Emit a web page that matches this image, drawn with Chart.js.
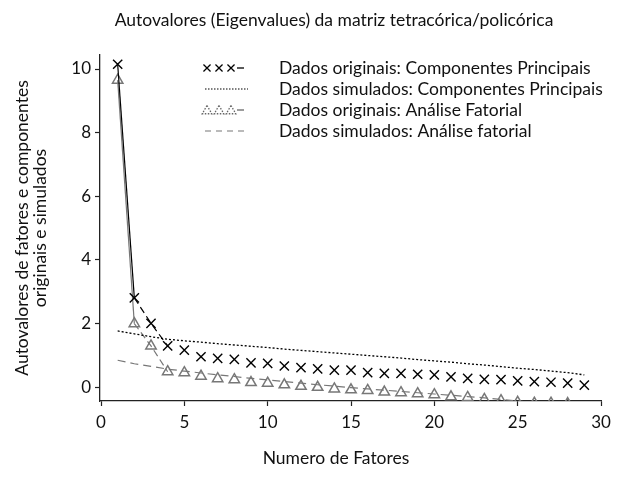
<!DOCTYPE html>
<html>
<head>
<meta charset="utf-8">
<script src="https://cdn.jsdelivr.net/npm/chart.js@4"></script>
<style>
  body { margin: 0; background: #fff; }
</style>
</head>
<body>
<canvas id="chart" width="620" height="479"></canvas>
<script>
// DATA
const factors = [1, 2, 3, 4, 5, 6, 7, 8, 9, 10, 11, 12, 13, 14, 15, 16, 17, 18, 19, 20, 21, 22, 23, 24, 25, 26, 27, 28, 29];
const pcOriginal = [10.15, 2.81, 2.01, 1.30, 1.17, 0.96, 0.91, 0.88, 0.77, 0.75, 0.67, 0.62, 0.58, 0.54, 0.54, 0.46, 0.44, 0.44, 0.41, 0.39, 0.33, 0.28, 0.25, 0.24, 0.20, 0.18, 0.16, 0.13, 0.07];
const pcSimulated = [1.77, 1.68, 1.59, 1.51, 1.46, 1.42, 1.37, 1.33, 1.29, 1.25, 1.20, 1.16, 1.12, 1.08, 1.04, 1.00, 0.96, 0.92, 0.87, 0.83, 0.79, 0.74, 0.70, 0.65, 0.60, 0.56, 0.51, 0.46, 0.39];
const faOriginal = [9.65, 2.00, 1.30, 0.49, 0.46, 0.35, 0.27, 0.24, 0.15, 0.13, 0.08, 0.03, 0.00, -0.05, -0.08, -0.10, -0.15, -0.17, -0.20, -0.23, -0.30, -0.32, -0.38, -0.42, -0.47, -0.50, -0.50, -0.51];
const faSimulated = [0.85, 0.74, 0.66, 0.57, 0.51, 0.45, 0.39, 0.34, 0.28, 0.23, 0.18, 0.13, 0.08, 0.04, -0.01, -0.05, -0.09, -0.13, -0.17, -0.21, -0.25, -0.29, -0.33, -0.38, -0.43, -0.48, -0.53, -0.58, -0.63];

const xTicks = [0, 5, 10, 15, 20, 25, 30];
const yTicks = [0, 2, 4, 6, 8, 10];

const seriesLabels = [
    'Dados originais: Componentes Principais',
    'Dados simulados: Componentes Principais',
    'Dados originais: Análise Fatorial',
    'Dados simulados: Análise fatorial'
];
const chartTitle = 'Autovalores (Eigenvalues) da matriz tetracórica/policórica';
const xTitle = 'Numero de Fatores';
const yTitle = ['Autovalores de fatores e componentes', 'originais e simulados'];

const FONT = 'Lato';
const GRAY = '#777777';

function toPoints(values) {
    return values.map((v, i) => ({ x: factors[i], y: v }));
}

// only the first three segments of the "original" series carry a line
function firstSegments(color) {
    return {
        borderColor: ctx => ctx.p0DataIndex < 3 ? color : 'rgba(0,0,0,0)',
        borderDash: ctx => ctx.p0DataIndex === 0 ? [] : [7, 4]
    };
}

// TITLES (main title and x title sit a bit left of the plot centre, as in the source)
const titlePlugin = {
    id: 'plotTitles',
    afterDraw(chart) {
        const ctx = chart.ctx;
        ctx.save();
        ctx.font = '17.5px ' + FONT;
        ctx.fillStyle = '#111';
        ctx.textAlign = 'center';
        ctx.textBaseline = 'middle';
        ctx.fillText(chartTitle, 334, 20);
        ctx.fillText(xTitle, 336, 458);
        ctx.restore();
    }
};

// LEGEND (inside the plot, top right)
const legendPlugin = {
    id: 'insideLegend',
    afterDraw(chart) {
        const ctx = chart.ctx;
        const rows = [67, 88, 109, 130];
        const textX = 279;
        ctx.save();
        chart.data.datasets.forEach((ds, i) => {
            const y = rows[i];
            ctx.font = '17.5px ' + FONT;
            ctx.fillStyle = '#111';
            ctx.textAlign = 'left';
            ctx.textBaseline = 'middle';
            ctx.fillText(ds.label, textX, y + 1);
            ctx.lineWidth = 1.3;
            if (i === 0 || i === 2) {
                const color = i === 0 ? '#000' : '#666';
                ctx.strokeStyle = color;
                ctx.fillStyle = 'rgba(0,0,0,0)';
                [207, 219, 231].forEach(px => {
                    Chart.helpers.drawPoint(ctx, {
                        pointStyle: i === 0 ? 'crossRot' : 'triangle',
                        radius: i === 0 ? 5 : 5.5,
                        borderWidth: 1.3,
                        rotation: 0
                    }, px, i === 0 ? y + 1 : y + 2);
                });
                ctx.beginPath();
                ctx.setLineDash([]);
                ctx.moveTo(237, y + 1);
                ctx.lineTo(244, y + 1);
                ctx.stroke();
            } else {
                ctx.lineWidth = 1.1;
                ctx.strokeStyle = i === 1 ? '#000' : GRAY;
                ctx.setLineDash(i === 1 ? [1.5, 1.5] : [6, 5]);
                ctx.beginPath();
                ctx.moveTo(205, y + 1);
                ctx.lineTo(248, y + 1);
                ctx.stroke();
            }
        });
        ctx.restore();
    }
};

Chart.defaults.font.family = FONT;
Chart.defaults.color = '#111';

const chart = new Chart(document.getElementById('chart').getContext('2d'), {
    type: 'line',
    data: {
        datasets: [{
            label: seriesLabels[0],
            data: toPoints(pcOriginal),
            borderColor: '#000',
            borderWidth: 1.2,
            pointStyle: 'crossRot',
            pointRadius: 6.5,
            pointBorderWidth: 1.4,
            pointBorderColor: '#000',
            pointBackgroundColor: 'rgba(0,0,0,0)',
            segment: firstSegments('#000'),
            tension: 0
        }, {
            label: seriesLabels[1],
            data: toPoints(pcSimulated),
            borderColor: '#000',
            borderWidth: 1.3,
            borderDash: [2, 2],
            pointRadius: 0,
            tension: 0
        }, {
            label: seriesLabels[2],
            data: toPoints(faOriginal),
            borderColor: GRAY,
            borderWidth: 1.2,
            pointStyle: 'triangle',
            pointRadius: 6,
            pointBorderWidth: 1.5,
            pointBorderColor: GRAY,
            pointBackgroundColor: 'rgba(255,255,255,0)',
            segment: firstSegments(GRAY),
            tension: 0
        }, {
            label: seriesLabels[3],
            data: toPoints(faSimulated),
            borderColor: GRAY,
            borderWidth: 1.2,
            borderDash: [8, 5],
            pointRadius: 0,
            tension: 0
        }]
    },
    options: {
        responsive: false,
        animation: false,
        layout: { padding: { top: 55, right: 19, left: 0, bottom: 0 } },
        plugins: {
            legend: { display: false },
            title: { display: false },
            tooltip: { enabled: false }
        },
        scales: {
            x: {
                type: 'linear',
                min: -0.06,
                max: 30,
                afterBuildTicks: scale => { scale.ticks = xTicks.map(v => ({ value: v })); },
                afterFit: scale => { scale.height = 78; },
                grid: { drawOnChartArea: false, drawTicks: true, tickLength: 5, color: '#222', tickWidth: 1.2 },
                border: { display: true, color: '#222', width: 1.3 },
                ticks: { font: { size: 17 }, padding: 6, maxRotation: 0 },
                title: { display: false }
            },
            y: {
                type: 'linear',
                min: -0.43,
                max: 10.44,
                afterBuildTicks: scale => { scale.ticks = yTicks.map(v => ({ value: v })); },
                afterFit: scale => { scale.width = 100; },
                grid: { drawOnChartArea: false, drawTicks: true, tickLength: 5, color: '#222', tickWidth: 1.2 },
                border: { display: true, color: '#222', width: 1.3 },
                ticks: { font: { size: 17 }, padding: 4 },
                title: { display: true, text: yTitle, font: { size: 17.5, lineHeight: 1.05 }, padding: { top: 13, bottom: 0 } }
            }
        }
    },
    plugins: [titlePlugin, legendPlugin]
});
</script>
</body>
</html>
